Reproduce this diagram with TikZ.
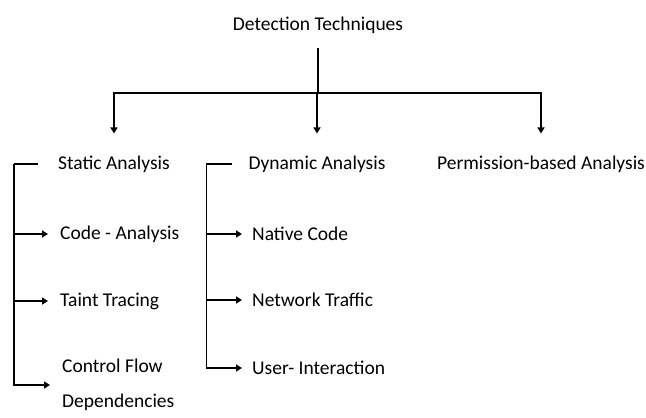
\documentclass[tikz,border=0pt]{standalone}
\usepackage{fontspec}
\setmainfont{Carlito}
\usetikzlibrary{arrows.meta,positioning}

\begin{document}
\begin{tikzpicture}[x=1pt, y=-1pt, font=\fontsize{19.5}{22}\selectfont,
  conn/.style={line width=1.6pt},
  arr/.style={conn, -{Triangle[width=7pt,length=6pt]}},
  head/.style={inner sep=0pt},
  item/.style={anchor=west, inner sep=0pt}]

  \useasboundingbox (0,0) rectangle (646,418);

  % Root
  \node[head] (root) at (318,25) {Detection Techniques};

  % Branches
  \node[head] (static) at (114,164) {Static Analysis};
  \node[head] (dynamic) at (317,164) {Dynamic Analysis};
  \node[head] (perm) at (541,164) {Permission-based Analysis};

  % Trunk and split
  \coordinate (stem) at (318,48);
  \coordinate (bar) at (318,93);
  \draw[conn] (stem) -- (bar);
  \foreach \b in {static, dynamic, perm} {
    \draw[arr, shorten >=22pt] (bar) -| (\b.north);
  }

  % Static analysis items
  \node[item] (code) at (60,234) {Code - Analysis};
  \node[item] (taint) at (60,301) {Taint Tracing};
  \node[item, align=left, font=\fontsize{19.5}{35}\selectfont] (ctrl) at (62,385) {Control Flow\\Dependencies};
  \path (static.west) ++(-44,0) coordinate (lrail);
  \draw[conn] ([xshift=-20pt]static.west) -- (lrail);
  \foreach \c in {code, taint, ctrl} {
    \draw[arr, shorten >=12pt] (lrail) |- (\c.west);
  }

  % Dynamic analysis items
  \node[item] (native) at (252,234) {Native Code};
  \node[item] (net) at (252,300) {Network Traffic};
  \node[item] (user) at (252,368) {User- Interaction};
  \path (dynamic.west) ++(-42,0) coordinate (mrail);
  \draw[conn] ([xshift=-16pt]dynamic.west) -- (mrail);
  \foreach \c in {native, net, user} {
    \draw[arr, shorten >=10pt] (mrail) |- (\c.west);
  }

\end{tikzpicture}
\end{document}
